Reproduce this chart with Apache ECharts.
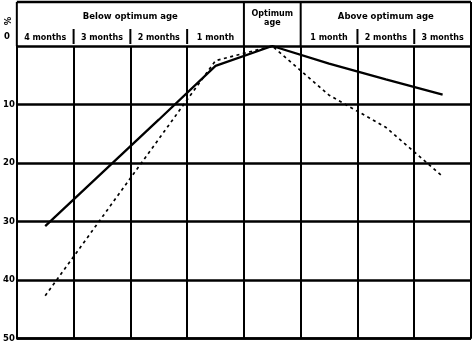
<!DOCTYPE html>
<html><head><meta charset="utf-8">
<script src="https://cdn.jsdelivr.net/npm/echarts@6/dist/echarts.min.js"></script>
<style>html,body{margin:0;padding:0;background:#fff}#c{width:473px;height:343px}</style>
</head><body><div id="c"></div>
<script>
const categories = ['4m', '3m', '2m', '1m', 'opt', '+1m', '+2m', '+3m'];
const tickLabels = ['4 months', '3 months', '2 months', '1 month', '', '1 month', '2 months', '3 months'];
const belowLabel = 'Below optimum age';
const optimumLabel = 'Optimum\nage';
const aboveLabel = 'Above optimum age';
const unitLabel = '%';
const solidValues = [30.8, 21.7, 12.6, 3.4, 0, 3.0, 5.7, 8.3];
const dashedValues = [42.7, 29.3, 15.9, 2.5, 0, 8.4, 13.9, 22.3];
const yMin = 0, yMax = 50, yStep = 10;

const FONT = 'DejaVu Sans';
const chart = echarts.init(document.getElementById('c'), null, {renderer: 'canvas'});
chart.setOption({
  animation: false,
  backgroundColor: '#fff',
  grid: {left: 16, right: 2, top: 46, bottom: 3, containLabel: false},
  xAxis: {
    type: 'category', position: 'top', data: categories, boundaryGap: true,
    axisLine: {show: false}, axisTick: {show: false},
    axisLabel: {interval: 0, margin: 4, fontSize: 8, fontWeight: 'bold', color: '#000', fontFamily: FONT,
      formatter: (v, i) => tickLabels[i]},
    splitLine: {show: true, interval: 0, lineStyle: {color: '#000', width: 2}}
  },
  yAxis: {
    type: 'value', inverse: true, min: yMin, max: yMax, interval: yStep,
    axisLine: {show: true, lineStyle: {color: '#000', width: 2}}, axisTick: {show: false},
    axisLabel: {margin: 2, fontSize: 8.5, fontWeight: 'bold', color: '#000', fontFamily: FONT,
      formatter: v => v === yMin ? '' : String(v)},
    splitLine: {show: true, lineStyle: {color: '#000', width: 2.6}}
  },
  series: [
    {type: 'line', data: solidValues, symbol: 'none', lineStyle: {color: '#000', width: 2.3}},
    {type: 'line', data: dashedValues, symbol: 'none', lineStyle: {color: '#000', width: 1.7, type: [3, 3.5]}}
  ]
});

const c0 = chart.convertToPixel({xAxisIndex: 0}, 0);
const c1 = chart.convertToPixel({xAxisIndex: 0}, 1);
const bw = c1 - c0;
const b = k => c0 - bw / 2 + k * bw;
const yTop = chart.convertToPixel({yAxisIndex: 0}, yMin);
const yBot = chart.convertToPixel({yAxisIndex: 0}, yMax);
const hTop = 2;
const line = (x1, y1, x2, y2, w) => ({type: 'line', shape: {x1, y1, x2, y2}, style: {stroke: '#000', lineWidth: w}});
const txt = (x, y, t, size) => ({type: 'text', x, y, style: {text: t, fill: '#000', font: 'bold ' + (size || 8) + 'px "' + FONT + '"', align: 'center', verticalAlign: 'middle', lineHeight: 9}});
const els = [
  line(b(0), hTop, b(8), hTop, 2.5),
  line(b(0), hTop, b(0), yTop, 2),
  line(b(8), hTop, b(8), yBot, 2),
  line(b(4), hTop, b(4), yTop, 2),
  line(b(5), hTop, b(5), yTop, 2),
  line(b(0), yBot, b(8), yBot, 2.5)
];
[1, 2, 3, 6, 7].forEach(k => els.push(line(b(k), 29, b(k), 44, 2)));
els.push(txt((b(0) + b(4)) / 2, 17, belowLabel, 8.5));
els.push(txt((b(4) + b(5)) / 2, 18, optimumLabel, 8));
els.push(txt((b(5) + b(8)) / 2, 17, aboveLabel, 8.5));
els.push(txt(7, yTop - 9, String(yMin), 8.5));
els.push(Object.assign(txt(9, 21, unitLabel, 8.5), {rotation: Math.PI / 2}));
chart.setOption({graphic: {elements: els}});
</script></body></html>
